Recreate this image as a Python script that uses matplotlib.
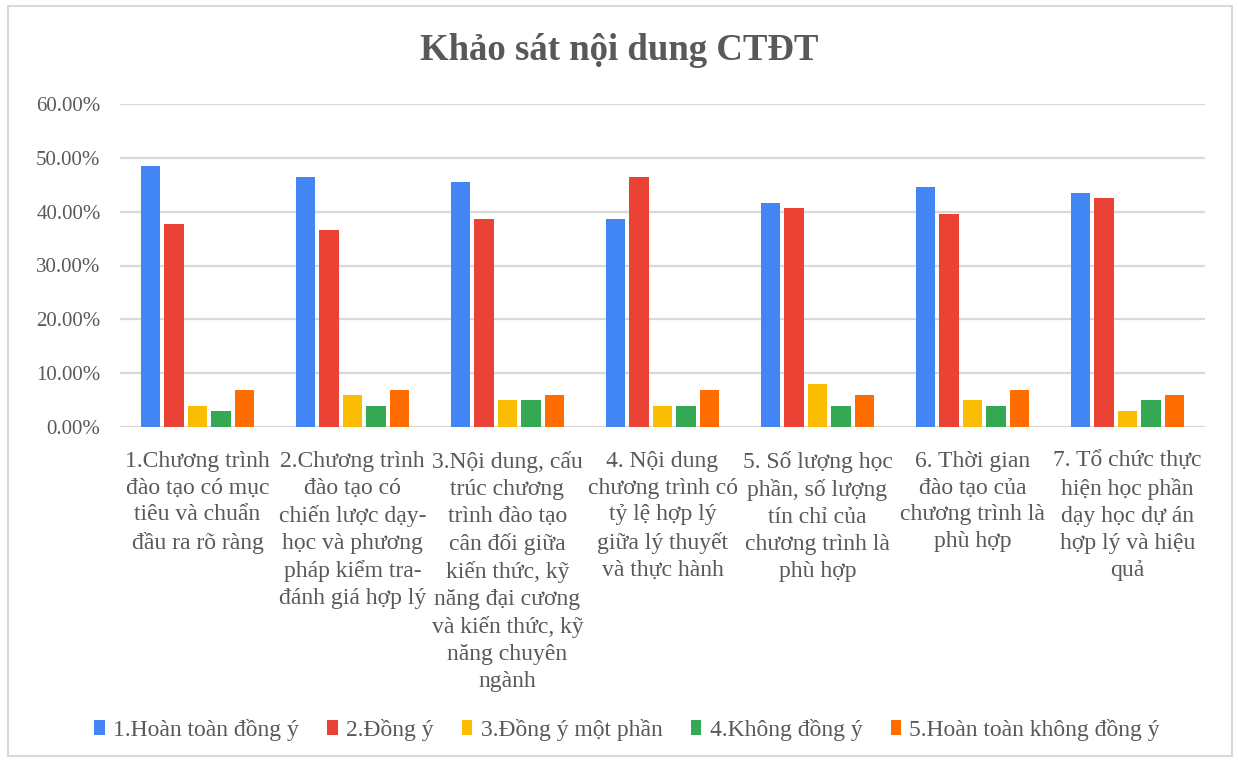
import matplotlib
matplotlib.use("Agg")
import matplotlib.pyplot as plt
import numpy as np
from matplotlib.patches import Rectangle, Patch
from matplotlib.ticker import FuncFormatter

categories = [
    "1.Chương trình\nđào tạo có mục\ntiêu và chuẩn\nđầu ra rõ ràng",
    "2.Chương trình\nđào tạo có\nchiến lược dạy-\nhọc và phương\npháp kiểm tra-\nđánh giá hợp lý",
    "3.Nội dung, cấu\ntrúc chương\ntrình đào tạo\ncân đối giữa\nkiến thức, kỹ\nnăng đại cương\nvà kiến thức, kỹ\nnăng chuyên\nngành",
    "4. Nội dung\nchương trình có\ntỷ lệ hợp lý\ngiữa lý thuyết\nvà thực hành",
    "5. Số lượng học\nphần, số lượng\ntín chỉ của\nchương trình là\nphù hợp",
    "6. Thời gian\nđào tạo của\nchương trình là\nphù hợp",
    "7. Tổ chức thực\nhiện học phần\ndạy học dự án\nhợp lý và hiệu\nquả",
]
series_names = ["1.Hoàn toàn đồng ý", "2.Đồng ý", "3.Đồng ý một phần",
                "4.Không đồng ý", "5.Hoàn toàn không đồng ý"]
hoan_toan_dong_y = [48.51, 46.53, 45.54, 38.61, 41.58, 44.55, 43.56]
dong_y = [37.62, 36.63, 38.61, 46.53, 40.59, 39.60, 42.57]
dong_y_mot_phan = [3.96, 5.94, 4.95, 3.96, 7.92, 4.95, 2.97]
khong_dong_y = [2.97, 3.96, 4.95, 3.96, 3.96, 3.96, 4.95]
hoan_toan_khong = [6.93, 6.93, 5.94, 6.93, 5.94, 6.93, 5.94]
y_ticks = [0, 10, 20, 30, 40, 50, 60]

colors = ["#4285F4", "#EA4335", "#FBBC04", "#34A853", "#FF6D01"]
series = [hoan_toan_dong_y, dong_y, dong_y_mot_phan, khong_dong_y, hoan_toan_khong]

plt.rcParams['font.family'] = ['Liberation Serif', 'DejaVu Serif']

fig = plt.figure(figsize=(12.38, 7.62), dpi=100)
fig.patches.append(Rectangle((8/1238, 6/762), 1224/1238, 750/762, transform=fig.transFigure,
                             fill=False, edgecolor="#d9d9d9", linewidth=1.5))
ax = fig.add_axes([120/1238, 1-427/762, 1085/1238, 323/762])

x = np.arange(len(categories))
slot = 0.152
bw = slot * 0.82
for i, (vals, c, name) in enumerate(zip(series, colors, series_names)):
    ax.bar(x + (i - 2) * slot, vals, width=bw, color=c, label=name, zorder=3)

ax.set_xlim(-0.5, len(categories) - 0.5)
ax.set_ylim(0, 60)
ax.set_yticks(y_ticks)
ax.yaxis.set_major_formatter(FuncFormatter(lambda v, p: f"{v:.2f}%"))
ax.grid(axis='y', color="#d9d9d9", linewidth=1.6, zorder=0)
for s in ax.spines.values():
    s.set_visible(False)
ax.tick_params(axis='y', length=0, pad=14, labelsize=15, labelcolor="#595959")
ax.tick_params(axis='x', length=0, pad=17, labelsize=17, labelcolor="#595959")
ax.set_xticks(x)
ax.set_xticklabels(categories, linespacing=1.37)

fig.text(0.5, 1-51/762, "Khảo sát nội dung CTĐT", ha='center', va='center',
         fontsize=26.5, fontweight='bold', color="#595959")

handles = [Patch(facecolor=c, edgecolor='none') for c in colors]
fig.legend(handles, series_names, loc='center', bbox_to_anchor=(627/1238, 1-730/762),
           ncol=5, frameon=False, fontsize=17, labelcolor="#595959",
           handlelength=0.45, handleheight=0.6, handletextpad=0.35, columnspacing=1.2)

fig.savefig("out.png", dpi=100, facecolor="white")
